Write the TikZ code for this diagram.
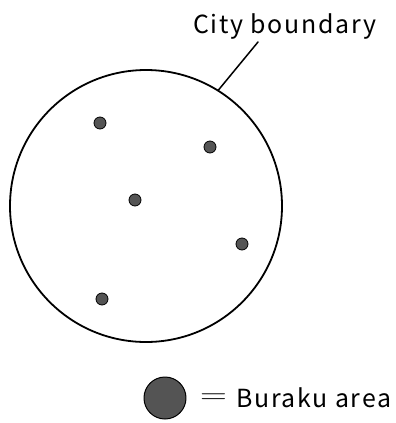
\documentclass[tikz,border=0pt]{standalone}
\usepackage{fontspec}
\setmainfont{Noto Sans CJK JP}[LetterSpace=7]
\usetikzlibrary{positioning}

\begin{document}
\begin{tikzpicture}[x=1bp, y=-1bp, line cap=round, line join=round,
    wire/.style={line width=1.5bp},
    lbl/.style={font=\fontsize{25}{30}\selectfont, inner sep=0pt},
    spot/.style={circle, draw, line width=0.8bp, fill=black!67, inner sep=0pt, minimum size=12bp}]
  \useasboundingbox (0,0) rectangle (396,423);
  \node[circle, draw, line width=1.8bp, minimum size=272bp, inner sep=0pt] (city) at (146,206) {};
  % the buraku spots inside the city
  \node[spot] (spotA) at (100,123) {};
  \node[spot] (spotB) at (210,147) {};
  \node[spot] (spotC) at (135,200) {};
  \node[spot] (spotD) at (242,244) {};
  \node[spot] (spotE) at (102,299) {};
  % boundary label and its leader
  \node[lbl, anchor=base west] (bndlbl) at (193,33) {City boundary};
  \coordinate (lead) at (258,42);
  \draw[wire] (city.58) -- (lead);
  % legend
  \node[spot, line width=1bp, minimum size=42bp] (key) at (165,398) {};
  \node[inner sep=0pt] (eq) at (213.5,399) {\scalebox{1.5}[1.1]{\fontsize{25}{30}\selectfont$=$}};
  \node[lbl, anchor=base west] (keylbl) at (236,407) {Buraku area};
\end{tikzpicture}
\end{document}
